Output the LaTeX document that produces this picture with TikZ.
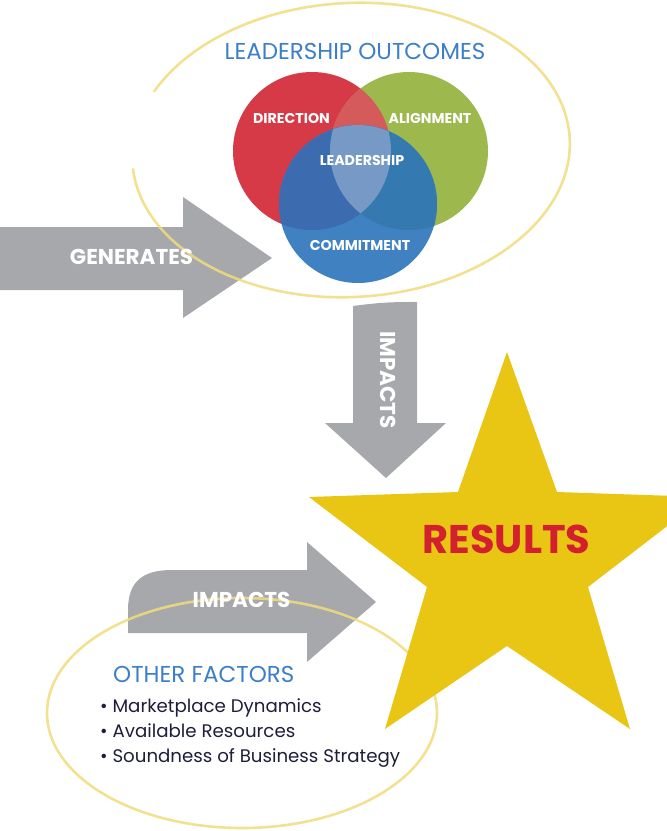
\documentclass[tikz,border=0pt]{standalone}
\usepackage{fontspec}
\setmainfont{Poppins}
\usetikzlibrary{positioning}
\definecolor{ldRed}{HTML}{D53A46}
\definecolor{ldGreen}{HTML}{9DB84C}
\definecolor{ldBlue}{HTML}{3F81C1}
\definecolor{ldRedGreen}{HTML}{D45A5C}
\definecolor{ldRedBlue}{HTML}{3D6BAF}
\definecolor{ldGreenBlue}{HTML}{3479AF}
\definecolor{ldCore}{HTML}{7699C6}
\definecolor{ldGrey}{HTML}{A7A8AC}
\definecolor{ldGold}{HTML}{E9C514}
\definecolor{ldBrush}{HTML}{F0DC7E}
\definecolor{ldTitle}{HTML}{3C7FC8}
\definecolor{ldResult}{HTML}{D3202F}
\definecolor{ldInk}{HTML}{1E1E3A}

\begin{document}
\begin{tikzpicture}[x=1pt, y=-1pt,
        venn/.style={text=white, inner sep=0pt, font=\bfseries\fontsize{14.2}{14.2}\selectfont},
        verb/.style={text=white, inner sep=0pt, font=\bfseries\fontsize{21.5}{21.5}\selectfont},
        head/.style={text=ldTitle, inner sep=0pt, font=\fontsize{23}{23}\selectfont},
        item/.style={text=ldInk, inner sep=0pt, anchor=base west, font=\fontsize{18.2}{18.2}\selectfont},
        brush/.style={draw=ldBrush, line width=2.6pt, opacity=0.85, line cap=round},
        blockarr/.style={fill=ldGrey}]
        \useasboundingbox (0,0) rectangle (667,831);
        % grey block arrows
        \fill[blockarr] (0,227) -- (183,227) -- (183,197) -- (272,258) -- (183,318) -- (183,290) -- (0,290) -- cycle;
        \fill[blockarr] (353,306) to[bend left=4] (417,302) -- (417,423) -- (446,423) -- (386,478) -- (325,423) -- (353,423) -- cycle;
        \fill[blockarr] (128,633) -- (128,610) .. controls (128,582) and (142,570) .. (172,570) -- (307,570) -- (307,542) -- (376,602) -- (307,662) -- (307,633) -- cycle;
        % venn of outcomes
        \fill[ldRed] (312,151) circle[radius=79];
        \fill[ldGreen] (409,151) circle[radius=79];
        \begin{scope}
          \clip (312,151) circle[radius=79];
          \fill[ldRedGreen] (409,151) circle[radius=79];
        \end{scope}
        \fill[ldBlue] (358,204) circle[radius=79];
        \begin{scope}
          \clip (358,204) circle[radius=79];
          \fill[ldRedBlue] (312,151) circle[radius=79];
          \fill[ldGreenBlue] (409,151) circle[radius=79];
          \clip (312,151) circle[radius=79];
          \fill[ldCore] (409,151) circle[radius=79];
        \end{scope}
        % brush ellipses
        \draw[brush, rotate around={3:(351,150)}] (351,150) ++(-183:219 and 147) arc[start angle=-183, end angle=-512, x radius=219, y radius=147];
        \draw[brush] (242,713) ellipse[x radius=195, y radius=115];
        % star
        \fill[ldGold] (507,352) -- (557,492) -- (705,497) -- (588,587) -- (630,729) -- (507,646) -- (385,729) -- (427,587) -- (309,497) -- (458,492) -- cycle;
        % labels
        \node[head] (title) at (355,51) {LEADERSHIP OUTCOMES};
        \node[venn] (dir) at (291.5,118.5) {DIRECTION};
        \node[venn] (ali) at (430,118) {ALIGNMENT};
        \node[venn] (lead) at (362,160) {LEADERSHIP};
        \node[venn] (com) at (360,245) {COMMITMENT};
        \node[verb] (gen) at (131.5,257) {GENERATES};
        \node[verb, rotate=-90] (impdown) at (388,380) {IMPACTS};
        \node[verb] (impside) at (241.5,600) {IMPACTS};
        \node[text=ldResult, inner sep=0pt, font=\bfseries\fontsize{40}{40}\selectfont] (res) at (506.5,539) {RESULTS};
        \node[head, anchor=base west] (other) at (113,682) {OTHER FACTORS};
        \node[item] (f1) at (100,712) {• Marketplace Dynamics};
        \node[item] (f2) at (100,737) {• Available Resources};
        \node[item] (f3) at (100,762) {• Soundness of Business Strategy};
      \end{tikzpicture}
\end{document}
